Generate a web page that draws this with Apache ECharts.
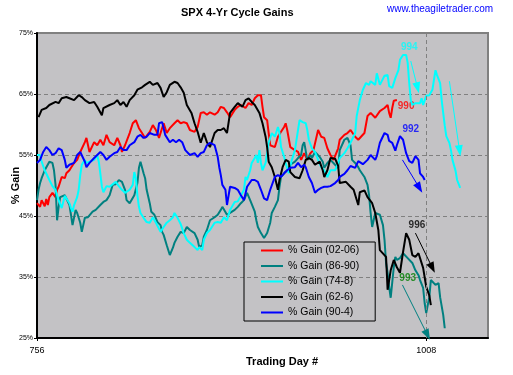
<!DOCTYPE html>
<html><head><meta charset="utf-8">
<script src="https://cdn.jsdelivr.net/npm/echarts@6/dist/echarts.min.js"></script>
<style>html,body{margin:0;padding:0;background:#fff}#c{width:513px;height:375px}</style>
</head><body><div id="c"></div>
<script>
const seriesNames = ['% Gain (02-06)', '% Gain (86-90)', '% Gain (74-8)', '% Gain (62-6)', '% Gain (90-4)'];
const yTicks = [25, 35, 45, 55, 65, 75];
const xTicks = [756, 1008];

const days_0206 = [756,758,759,761,762,763,764,766,768,769,770,772,774,775,777,778,780,782,784,787,788,790,793,795,797,799,801,803,806,808,810,811,813,816,818,820,822,824,826,829,831,833,835,838,840,842,845,847,849,851,853,855,858,860,862,864,866,868,871,873,875,877,879,881,884,886,888,891,893,895,897,899,901,902,903,905,906,907,910,912,914,916,917,918,920,923,925,927,929,931,933,935,938,940,942,944,946,948,951,952,955,957,959,962,964,965,968,970,972,975,976,978,981,983,984,985,986,987,989];
const gain_0206 = [47.1,46.5,47.6,46.6,47.8,46.8,48.1,48.8,48.1,49.3,49.8,51.4,51.2,52.0,52.5,52.9,53.7,54.2,55.5,57.1,57.8,55.5,57.1,56.6,57.5,56.6,58.3,57.1,56.6,57.8,56.6,55.5,56.6,58.6,60.2,60.7,59.4,58.6,57.8,58.8,59.9,59.1,57.8,60.2,58.6,59.4,60.2,60.7,60.2,60.4,60.2,59.1,58.8,59.6,61.9,62.0,61.6,62.0,61.6,62.0,62.9,62.7,62.0,61.2,62.4,62.9,63.2,62.7,63.5,63.2,64.3,64.8,64.8,62.9,61.2,60.7,58.6,56.6,56.3,58.0,58.8,59.6,60.2,59.1,56.3,55.8,55.5,54.2,55.3,54.2,55.3,55.8,59.1,58.0,57.8,56.1,55.0,54.2,56.1,57.5,58.3,58.6,59.1,58.0,57.5,57.8,58.6,61.4,61.9,61.1,61.2,62.2,62.7,63.2,61.9,61.1,62.7,63.9,64.0];

const days_8690 = [756,757,758,759,761,764,766,767,768,769,770,771,772,774,775,777,778,779,781,782,784,785,787,789,792,794,795,797,799,801,803,805,807,809,811,813,814,816,819,821,822,823,824,825,826,827,829,830,832,834,836,837,838,840,841,842,844,845,847,849,851,853,855,858,860,861,863,864,866,868,871,873,875,876,877,879,881,884,886,888,890,892,894,897,898,899,901,903,905,907,908,910,912,913,914,916,918,920,923,925,927,928,929,931,933,934,936,939,941,942,944,946,949,951,952,955,957,959,960,962,964,965,968,970,971,972,973,975,976,978,980,981,982,983,984,985,986,987,988,989,991,993,994,996,997,999,1001,1003,1004,1006,1007,1008,1009,1010,1011,1012,1014,1016,1017,1019,1020];
const gain_8690 = [47.6,49.3,50.4,51.2,52.5,53.9,53.7,52.5,50.1,44.3,46.5,48.1,48.4,48.4,48.1,46.8,45.2,43.5,46.0,45.5,43.9,42.4,44.7,44.8,45.7,46.0,46.3,46.8,47.3,47.6,48.4,50.1,50.2,50.9,50.6,49.3,47.6,47.1,48.4,50.4,52.9,53.9,53.7,52.0,51.2,49.3,47.1,45.7,45.2,44.0,43.5,42.4,41.9,40.2,39.9,38.6,39.8,40.6,41.6,42.4,42.2,43.2,42.7,42.2,41.1,39.9,40.2,41.6,42.7,44.3,44.8,45.2,46.0,46.5,46.3,45.2,45.5,46.0,46.5,47.1,47.6,48.8,47.6,45.7,44.3,43.2,42.2,41.4,42.2,43.9,45.5,46.5,47.6,49.8,51.4,52.0,52.5,53.4,53.9,54.5,55.0,56.6,57.1,54.2,55.0,54.5,55.5,54.7,53.9,52.9,53.7,54.2,53.4,52.9,55.8,57.5,57.8,56.6,54.2,53.7,53.0,52.5,51.4,50.1,48.4,45.5,43.2,45.5,45.5,45.2,43.5,41.1,37.3,35.7,33.4,31.6,34.1,36.6,38.3,37.8,38.1,38.9,38.6,38.1,37.8,37.3,36.1,35.3,34.5,33.2,30.7,29.1,30.4,31.7,34.5,34.8,33.7,34.0,31.7,28.8,26.6];

const days_748 = [756,758,759,761,764,766,768,769,770,772,774,775,777,778,779,780,782,783,784,785,787,788,790,793,795,796,797,798,799,801,803,805,807,809,811,813,814,816,818,819,820,821,822,823,825,827,829,831,832,833,834,836,838,840,842,844,845,847,849,851,853,855,858,860,861,863,864,866,868,871,873,875,877,879,881,884,886,888,890,891,892,894,895,897,898,899,900,901,902,904,906,908,910,912,913,914,916,917,919,921,923,925,926,928,930,931,932,934,936,938,940,942,944,946,949,951,952,955,957,959,962,963,965,967,969,971,972,975,976,978,981,983,984,986,988,990,991,993,995,996,997,998,999,1001,1004,1005,1006,1008,1010,1012,1013,1014,1015,1017,1018,1019,1020,1021,1023,1024,1025,1027,1028,1030];
const gain_748 = [55.0,55.0,53.9,52.5,50.9,49.9,49.3,48.4,47.6,46.3,48.3,48.0,47.1,46.3,45.7,46.8,48.1,49.3,51.7,53.4,54.2,53.7,53.9,54.2,55.0,53.9,52.0,49.8,48.9,49.9,49.8,50.2,50.6,49.9,49.3,48.8,49.1,49.3,50.1,52.2,51.2,48.4,46.5,45.5,44.7,44.0,43.9,44.8,45.0,43.9,44.0,42.4,43.2,43.9,44.3,44.8,45.5,44.7,43.7,42.2,41.1,40.6,39.9,39.4,39.9,39.4,41.1,42.2,42.7,43.9,44.0,43.9,44.8,44.3,46.0,47.3,47.4,48.3,49.3,51.4,50.9,52.5,53.7,54.5,55.0,53.7,55.8,53.7,52.5,53.7,57.0,58.6,58.0,59.6,58.6,56.3,54.7,53.7,52.0,54.2,55.8,59.1,60.7,60.4,60.2,59.1,57.5,56.1,55.5,54.2,53.0,52.5,51.4,52.5,52.5,53.7,54.5,55.3,56.1,57.0,58.6,61.4,64.0,65.7,66.8,66.5,67.1,66.5,68.4,66.5,68.0,68.1,66.3,66.0,67.6,68.9,70.6,71.4,71.4,70.1,66.8,64.0,63.2,63.5,63.5,64.3,63.2,64.7,64.8,65.7,67.3,68.9,68.1,66.8,64.0,61.9,59.8,58.1,57.0,55.8,54.2,52.4,50.9,49.6];

const days_626 = [757,759,762,764,768,770,772,775,777,780,783,785,787,790,793,795,798,799,803,806,808,810,812,814,816,819,821,824,826,829,831,834,836,838,840,842,845,847,849,851,853,856,858,860,862,864,866,868,871,873,875,877,879,881,884,886,889,891,893,895,897,900,902,904,905,906,908,910,912,913,915,917,919,920,923,926,928,930,932,934,936,939,941,942,944,946,949,951,952,956,959,961,964,965,968,970,973,975,977,978,982,983,985,987,989,991,993,995,997,999,1001,1003,1006,1008,1010,1011];
const gain_626 = [61.2,62.4,62.7,63.2,63.7,63.5,64.3,64.5,64.3,64.0,64.8,64.5,64.0,63.5,63.7,62.9,61.5,62.7,63.2,63.5,64.0,63.2,63.7,62.9,64.0,64.8,65.7,66.1,66.5,67.0,66.5,66.8,66.0,64.5,65.3,66.5,67.0,66.8,66.1,65.2,63.2,61.9,60.2,58.8,57.0,58.6,57.1,56.3,58.6,59.1,59.1,59.4,58.6,61.9,62.9,63.5,62.9,64.0,64.3,63.7,63.2,61.9,60.2,58.0,56.3,53.9,53.0,51.4,49.3,50.9,53.0,54.2,53.9,52.2,51.4,51.2,52.5,54.2,54.5,54.2,53.4,53.9,52.5,51.4,52.5,54.5,54.4,53.2,50.4,50.6,49.8,49.3,46.8,48.9,49.2,48.1,47.1,45.5,42.7,39.4,38.3,32.9,36.1,37.8,36.6,35.7,39.1,42.2,41.1,38.6,38.3,38.9,36.5,33.4,32.0,30.4];

const days_904 = [756,758,760,762,764,766,768,770,772,774,775,777,780,782,784,787,788,790,793,795,797,799,801,803,806,808,810,812,814,816,819,821,823,825,827,829,832,834,835,837,838,839,842,844,846,848,850,852,853,855,858,860,862,864,866,868,871,873,874,875,876,878,879,881,884,886,888,890,892,895,897,899,901,903,905,907,910,912,914,916,918,920,923,925,927,929,930,932,934,936,938,940,942,944,946,949,951,952,955,957,959,962,964,967,970,972,975,976,978,981,983,984,986,988,989,991,993,995,997,999,1001,1003,1004,1006,1007];
const gain_904 = [53.7,54.2,55.5,56.3,55.8,55.0,55.3,56.1,55.8,54.2,52.9,53.4,53.7,55.0,55.5,53.9,53.0,53.7,54.5,55.0,55.5,55.0,54.2,54.7,55.3,55.5,56.3,55.8,55.8,56.6,57.1,58.0,58.3,57.8,58.0,58.6,58.3,58.3,60.2,60.4,60.2,58.3,57.1,57.5,57.1,57.5,57.1,55.8,55.5,55.0,55.3,54.7,55.3,55.5,56.6,57.0,56.6,54.7,53.0,51.7,50.1,49.3,46.8,49.8,49.6,49.3,48.4,47.6,49.8,50.9,50.9,50.6,49.3,47.9,47.6,49.3,51.4,51.7,51.4,52.0,52.5,52.9,53.0,53.7,53.0,53.4,53.0,51.4,50.4,48.8,49.3,49.6,49.8,49.8,49.9,50.4,50.9,51.4,51.9,52.5,53.2,52.9,54.0,53.5,54.2,55.0,54.2,54.8,57.0,58.6,58.3,57.3,57.0,55.7,56.6,58.1,57.5,55.3,54.0,53.7,54.8,54.2,52.0,51.4,50.9];

// annotations (day, gain)
const noteLabels = ['994', '990', '992', '996', '993'];
const noteDays = [997, 995, 998, 1002, 996];
const noteGains = [72.7, 63.0, 59.3, 43.5, 34.8];
const arrowFromDays = [998, 1023, 992.6, 1001, 992.6];
const arrowFromGains = [70.4, 67.1, 54.2, 42.2, 33.7];
const arrowToDays = [1002.4, 1029.6, 1003.6, 1012, 1008.8];
const arrowToGains = [66.0, 55.7, 49.6, 36.5, 25.5];

const FONT = '"Liberation Sans", Arial, sans-serif';
const colors = ['#ff0000', '#008080', '#00ffff', '#000000', '#0000ff'];
const noteColors = ['#00ffff', '#ff0000', '#0000ff', '#000000', '#008000'];
const arrowColors = ['#00ffff', '#00ffff', '#0000ff', '#000000', '#008080'];

function zip(d, g) { const n = Math.min(d.length, g.length); const r = []; for (let i = 0; i < n; i++) r.push([d[i], g[i]]); return r; }
const allDays = [days_0206, days_8690, days_748, days_626, days_904];
const allGains = [gain_0206, gain_8690, gain_748, gain_626, gain_904];

const series = seriesNames.map((nm, i) => ({
  name: nm, type: 'line', data: zip(allDays[i], allGains[i]),
  showSymbol: false, symbol: 'none', silent: true,
  lineStyle: { color: colors[i], width: 2 }, itemStyle: { color: colors[i] }
}));

series.unshift({
  name: 'ref', type: 'line', data: [], silent: true,
  markLine: { silent: true, symbol: ['none', 'none'], label: { show: false },
    lineStyle: { type: [4, 3], color: '#808080', width: 1 },
    data: [{ xAxis: xTicks[1] }] }
});

series.push({
  name: 'arrows', type: 'line', data: [], silent: true,
  markLine: { silent: true, symbol: ['none', 'triangle'], symbolSize: [8, 11], label: { show: false },
    data: arrowFromDays.map((d, i) => [
      { coord: [d, arrowFromGains[i]], lineStyle: { color: arrowColors[i], width: 1, type: 'solid' }, itemStyle: { color: arrowColors[i] } },
      { coord: [arrowToDays[i], arrowToGains[i]] }
    ]) }
});

series.push({
  name: 'notes', type: 'scatter', silent: true, symbolSize: 0,
  data: noteDays.map((d, i) => ({ value: [d, noteGains[i]],
    label: { show: true, position: 'inside', formatter: noteLabels[i], color: noteColors[i],
      fontSize: 10, fontWeight: 'bold', fontFamily: FONT } }))
});

const chart = echarts.init(document.getElementById('c'));
chart.setOption({
  animation: false,
  backgroundColor: '#ffffff',
  title: [
    { text: 'SPX 4-Yr Cycle Gains', left: 181, top: 6.5, padding: 0,
      textStyle: { fontSize: 11, lineHeight: 13, fontWeight: 'bold', color: '#000', fontFamily: FONT } },
    { text: 'www.theagiletrader.com', left: 387, top: 3.5, padding: 0,
      textStyle: { fontSize: 10, lineHeight: 12, fontWeight: 'normal', color: '#0000ff', fontFamily: FONT } },
    { text: 'Trading Day #', left: 246, top: 355.5, padding: 0,
      textStyle: { fontSize: 11, lineHeight: 13, fontWeight: 'bold', color: '#000', fontFamily: FONT } }
  ],
  legend: {
    data: seriesNames, left: 244, top: 242, orient: 'vertical', icon: 'rect',
    itemWidth: 22, itemHeight: 2, itemGap: 2.5, padding: [2, 16, 2, 17],
    borderColor: '#000', borderWidth: 1, selectedMode: false,
    textStyle: { fontSize: 10.5, lineHeight: 13, color: '#000', fontFamily: FONT }
  },
  grid: { left: 37, top: 33, width: 451, height: 305, show: true, containLabel: false,
    outerBoundsMode: 'none',
    backgroundColor: '#c3c2c5', borderColor: '#808080', borderWidth: 2 },
  xAxis: {
    type: 'value', min: 756, max: 1048, interval: 252,
    axisLine: { onZero: false, lineStyle: { color: '#000', width: 2 } },
    axisTick: { customValues: xTicks, length: 3, lineStyle: { color: '#000' } },
    axisLabel: { customValues: xTicks, formatter: v => String(v), fontSize: 9, margin: 8, color: '#000', fontFamily: FONT },
    splitLine: { show: false }
  },
  yAxis: {
    type: 'value', min: yTicks[0], max: yTicks[yTicks.length - 1], interval: 10,
    name: '% Gain', nameLocation: 'middle', nameGap: 16, nameMoveOverlap: false,
    nameTextStyle: { fontSize: 11, fontWeight: 'bold', color: '#000', fontFamily: FONT },
    axisLine: { onZero: false, lineStyle: { color: '#000', width: 2 } },
    axisTick: { length: 3, lineStyle: { color: '#000' } },
    axisLabel: { formatter: '{value}%', fontSize: 7, margin: 4, color: '#000', fontFamily: FONT },
    splitLine: { show: true, showMinLine: false, showMaxLine: false,
      lineStyle: { type: [4, 3], color: '#808080', width: 1 } }
  },
  series: series
});
</script></body></html>
